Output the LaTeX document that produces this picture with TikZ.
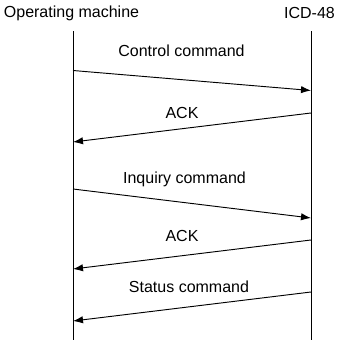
\documentclass[tikz,border=0pt]{standalone}
\usepackage{fontspec}
\setmainfont{Liberation Sans}
\usetikzlibrary{arrows.meta}
\tikzset{
  msg/.style={-{Latex[length=7.5pt,width=5.5pt]}, line width=0.7pt},
  life/.style={line width=0.7pt},
  lbl/.style={font=\fontsize{12}{14}\selectfont, inner sep=0pt},
}
\begin{document}
\begin{tikzpicture}[x=0.75pt,y=-0.75pt]
\useasboundingbox (0,0) rectangle (337,340);
% participants
\node[lbl] (om) at (71.5,13) {Operating machine};
\node[lbl] (icd) at (309.5,13) {ICD-48};

% lifelines
\coordinate (omtop) at (73,31);
\coordinate (ombot) at (73,340);
\coordinate (icdtop) at (311,31);
\coordinate (icdbot) at (311,340);
\draw[life] (omtop) -- (ombot);
\draw[life] (icdtop) -- (icdbot);

% message ends
\coordinate (c1a) at (73,70.5);  \coordinate (c1b) at (311,90.5);
\coordinate (c2a) at (311,113);  \coordinate (c2b) at (73,142);
\coordinate (c3a) at (73,189);   \coordinate (c3b) at (311,218);
\coordinate (c4a) at (311,240);  \coordinate (c4b) at (73,269);
\coordinate (c5a) at (311,292);  \coordinate (c5b) at (73,321);

% messages
\draw[msg] (c1a) -- (c1b);
\draw[msg] (c2a) -- (c2b);
\draw[msg] (c3a) -- (c3b);
\draw[msg] (c4a) -- (c4b);
\draw[msg] (c5a) -- (c5b);

% labels
\node[lbl] (ctrl) at (181.5,51) {Control command};
\node[lbl] (ack1) at (182,113) {ACK};
\node[lbl] (inq)  at (184.5,179) {Inquiry command};
\node[lbl] (ack2) at (182,236) {ACK};
\node[lbl] (stat) at (189,287) {Status command};

\end{tikzpicture}
\end{document}
